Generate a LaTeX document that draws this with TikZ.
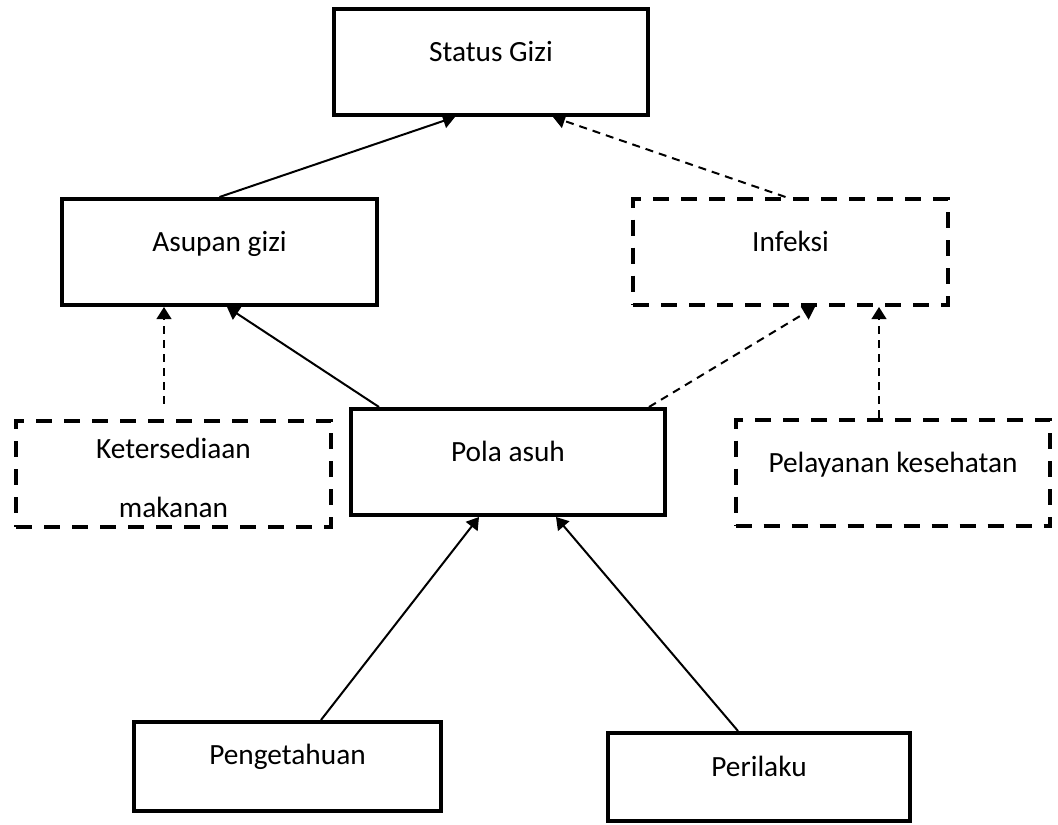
\documentclass[tikz,border=0pt]{standalone}
\usepackage{fontspec}
\setmainfont{Carlito}
\usetikzlibrary{arrows.meta,calc}

\begin{document}
\begin{tikzpicture}[
  x=0.75pt,
  y=-0.75pt,
  font=\fontsize{22}{26}\selectfont,
  factor/.style={
    draw,
    line width=3pt,
    minimum width=236pt,
    minimum height=79.5pt
  },
  dfactor/.style={
    factor,
    dash pattern=on 12pt off 9pt
  },
  txt/.style={
    anchor=base,
    yshift=#1
  },
  txt/.default=-40.5pt,
  link/.style={
    line width=1.5pt,
    -{Triangle[length=9pt,width=11pt]}
  },
  dlink/.style={
    link,
    dash pattern=on 6pt off 4.5pt
  }
  ]
  \useasboundingbox (0,0) rectangle (1058,825);

  \node [factor] (Status) at (491, 62) [label={[txt]north:Status Gizi}] {};
  \node [factor] (Asupan) at (219.5, 252) [label={[txt]north:Asupan gizi}] {};
  \node [dfactor] (Infeksi) at (790.5, 252) [label={[txt]north:Infeksi}] {};
  \node [dfactor] (Ketersediaan) at (173.5, 473.5)
    [label={[txt=-30pt]north:Ketersediaan},
     label={[txt=-74.25pt]north:makanan}] {};
  \node [factor] (Pola) at (508, 462) [label={[txt]north:Pola asuh}] {};
  \node [dfactor] (Pelayanan) at (893, 473) [label={[txt]north:Pelayanan kesehatan}] {};
  \node [factor, minimum width=230pt, minimum height=66.75pt] (Pengetahuan) at (287.5, 766.5)
    [label={[txt=-33pt]north:Pengetahuan}] {};
  \node [factor, minimum width=226.5pt, minimum height=66pt] (Perilaku) at (759, 777)
    [label={[txt=-33.75pt]north:Perilaku}] {};

  \draw [link] (Asupan.north) -- ($(Status.south)+(-36,0)$);
  \draw [dlink] ($(Infeksi.north)+(-5,0)$) -- ($(Status.south)+(62,0)$);
  \draw [dlink] ($(Ketersediaan.north)+(-9.5,-15)$) -- ($(Asupan.south)+(-55.5,0)$);
  \draw [link] ($(Pola.north)+(-129,0)$) -- ($(Asupan.south)+(7.5,0)$);
  \draw [dlink] ($(Pola.north)+(141,0)$) -- ($(Infeksi.south)+(24.5,0)$);
  \draw [dlink] ($(Pelayanan.north)+(-14,0)$) -- ($(Infeksi.south)+(88.5,0)$);
  \draw [link] ($(Pengetahuan.north)+(33.5,0)$) -- ($(Pola.south)+(-29,0)$);
  \draw [link] ($(Perilaku.north)+(-21,0)$) -- ($(Pola.south)+(48,0)$);
\end{tikzpicture}
\end{document}
